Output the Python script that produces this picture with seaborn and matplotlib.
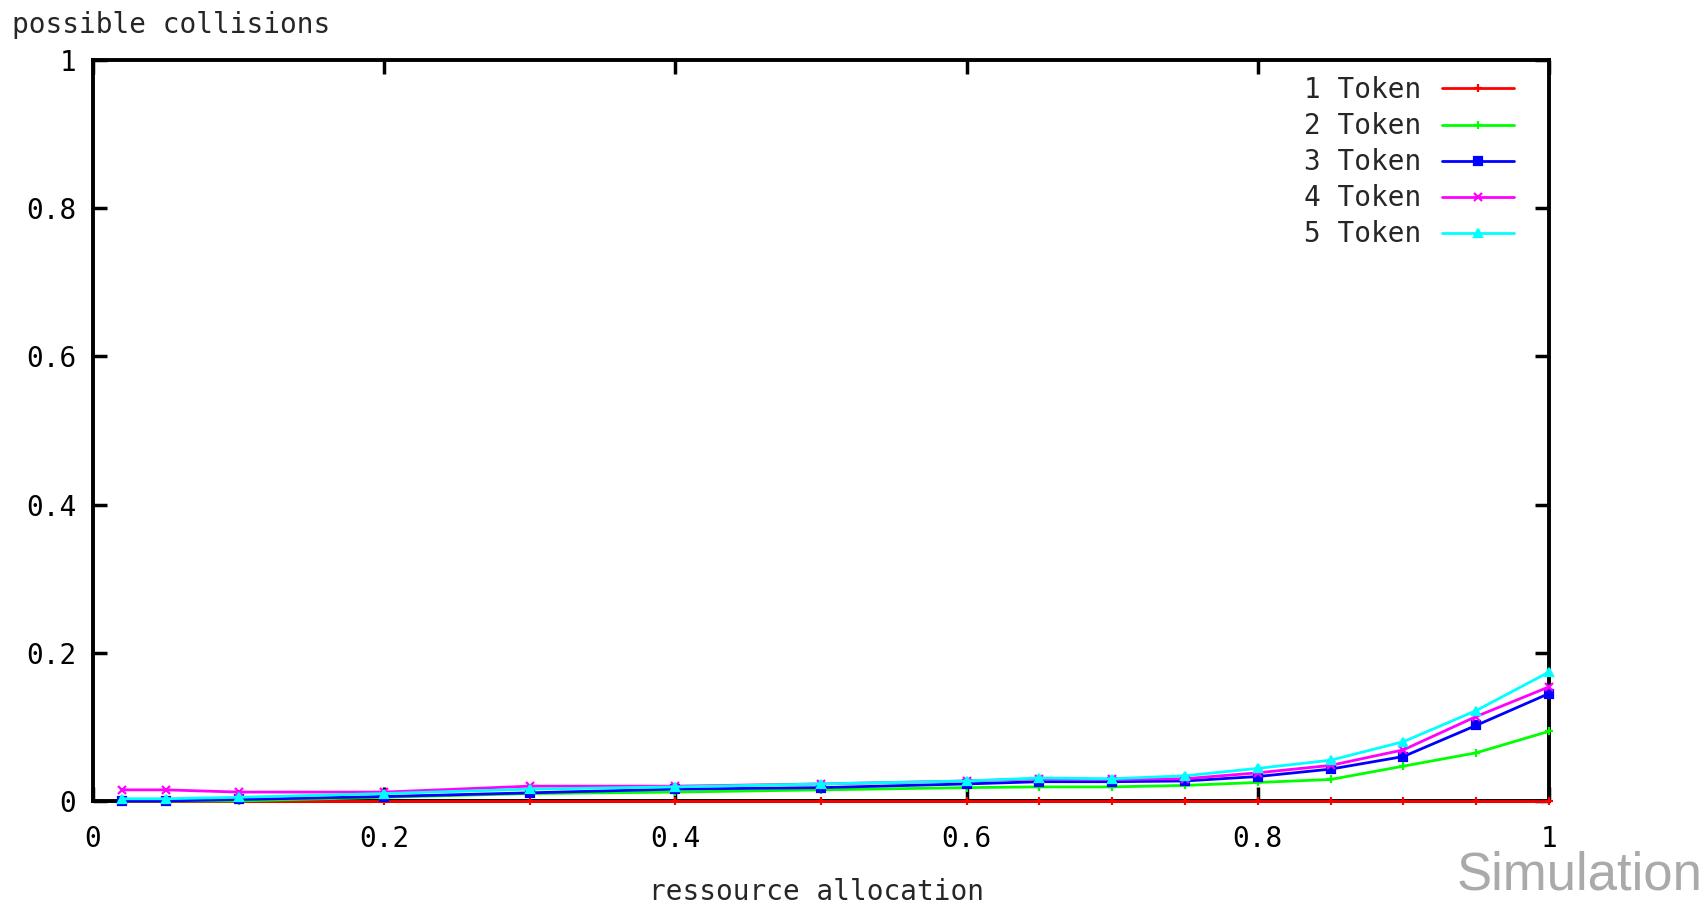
import pandas as pd
import matplotlib
matplotlib.use("Agg")
import matplotlib.pyplot as plt
import seaborn as sns

# resource allocation (x) and possible collisions per token count
allocation = [0.02, 0.05, 0.1, 0.2, 0.3, 0.4, 0.5, 0.6, 0.65, 0.7, 0.75, 0.8, 0.85, 0.9, 0.95, 1.0]
token_1 = [0.0] * 16
token_2 = [0.0, 0.0, 0.0, 0.005, 0.010, 0.012, 0.015, 0.018, 0.019, 0.019, 0.021, 0.025, 0.029, 0.047, 0.065, 0.094]
token_3 = [0.0, 0.0, 0.002, 0.006, 0.011, 0.016, 0.018, 0.023, 0.026, 0.026, 0.027, 0.033, 0.043, 0.060, 0.102, 0.145]
token_4 = [0.015, 0.015, 0.012, 0.012, 0.020, 0.020, 0.023, 0.027, 0.030, 0.029, 0.030, 0.038, 0.048, 0.069, 0.114, 0.154]
token_5 = [0.003, 0.003, 0.005, 0.010, 0.016, 0.019, 0.023, 0.027, 0.031, 0.030, 0.034, 0.044, 0.055, 0.080, 0.122, 0.174]

labels = ["1 Token", "2 Token", "3 Token", "4 Token", "5 Token"]
colors = ["#ff0000", "#00ff00", "#0000ff", "#ff00ff", "#00ffff"]
markers = ["+", "+", "s", "x", "^"]

tick_vals = [0, 0.2, 0.4, 0.6, 0.8, 1]
tick_labels = ["0", "0.2", "0.4", "0.6", "0.8", "1"]

sns.set_style("white")
plt.rcParams["font.family"] = ["DejaVu Sans Mono", "DejaVu Sans"]
fs = 20

fig = plt.figure(figsize=(17.08, 9.07), dpi=100)
ax = fig.add_axes([0.0544, 0.1169, 0.8525, 0.8169])

series = [token_1, token_2, token_3, token_4, token_5]
for vals, lab, col, mk in zip(series, labels, colors, markers):
    df = pd.DataFrame({"x": allocation, "y": vals})
    sns.lineplot(data=df, x="x", y="y", ax=ax, color=col, marker=mk,
                 markersize=6, markeredgecolor=col, markerfacecolor=col,
                 markeredgewidth=1.6, linewidth=2.0, label=lab,
                 clip_on=False, zorder=3)

ax.set_xlim(0, 1)
ax.set_ylim(0, 1)
ax.set_xticks(tick_vals)
ax.set_xticklabels(tick_labels, fontsize=fs)
ax.set_yticks(tick_vals)
ax.set_yticklabels(tick_labels, fontsize=fs)
ax.tick_params(direction="in", length=10, width=2.5, top=True, right=True,
               bottom=True, left=True, colors="black")
ax.tick_params(axis="x", pad=17)
ax.tick_params(axis="y", pad=12)
for sp in ax.spines.values():
    sp.set_linewidth(2.8)
    sp.set_color("black")

ax.set_xlabel("")
ax.set_ylabel("")
fig.text(0.478, 0.016, "ressource allocation", fontsize=fs, ha="center", va="center")
fig.text(0.007, 0.972, "possible collisions", fontsize=fs, ha="left", va="center")
fig.text(0.9965, 0.035, "Simulation", fontsize=38, color="#aaaaaa",
         family="Liberation Sans", ha="right", va="center")

ax.legend(loc="upper right", bbox_to_anchor=(0.8864, 0.916),
          bbox_transform=fig.transFigure, frameon=False, markerfirst=False,
          fontsize=fs, handlelength=2.6, handletextpad=0.75, labelspacing=0.29,
          borderpad=0, borderaxespad=0)

fig.savefig("out.png", dpi=100, facecolor="white")
